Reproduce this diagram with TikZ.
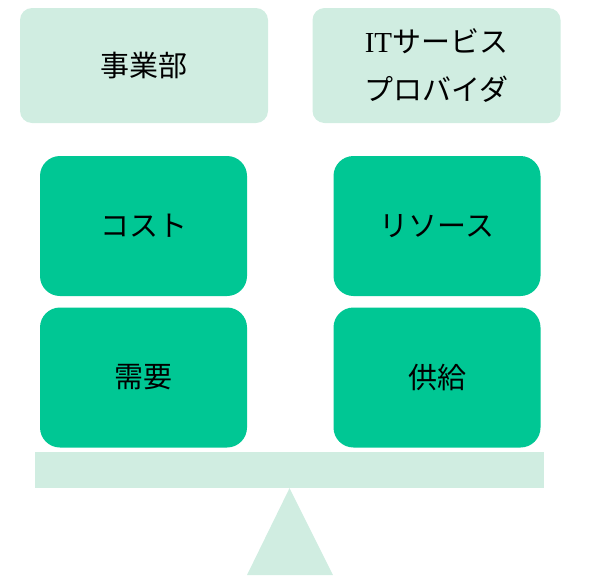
\documentclass[tikz,border=0pt]{standalone}
\usepackage{fontspec}
\setmainfont{Noto Sans CJK JP}
\newfontfamily\latinserif{Liberation Serif}

\begin{document}
\begin{tikzpicture}[
	x=1pt, y=-1pt,
	party/.style={fill=palegreen, rounded corners=12pt, minimum width=248pt, minimum height=115pt, align=center, font=\fontsize{29}{48}\selectfont},
	weight/.style={fill=mintgreen, rounded corners=20pt, minimum width=207pt, minimum height=140pt, font=\fontsize{29}{32}\selectfont}
	]
	% Define colors
	\definecolor{mintgreen}{RGB}{0,199,148}   % weights on the scale
	\definecolor{palegreen}{RGB}{208,237,225} % parties, beam and pivot
	
	\useasboundingbox (0,0) rectangle (589,587);
	
	% Parties
	\node[party] (business) at (144,65.5) {事業部};
	\node[party] (provider) at (436.5,65.5) {{\latinserif IT}サービス\\プロバイダ};
	
	% Weights
	\node[weight] (cost) at (143.5,226) {コスト};
	\node[weight] (demand) at (143.5,377.5) {需要};
	\node[weight] (resource) at (437,226) {リソース};
	\node[weight] (supply) at (437,377.5) {供給};
	
	% Beam and pivot
	\node[fill=palegreen, minimum width=509pt, minimum height=36pt, inner sep=0pt] (beam) at (289.5,470) {};
	\fill[palegreen] (beam.south) -- (247,575) -- (333,575) -- cycle;
\end{tikzpicture}
\end{document}
